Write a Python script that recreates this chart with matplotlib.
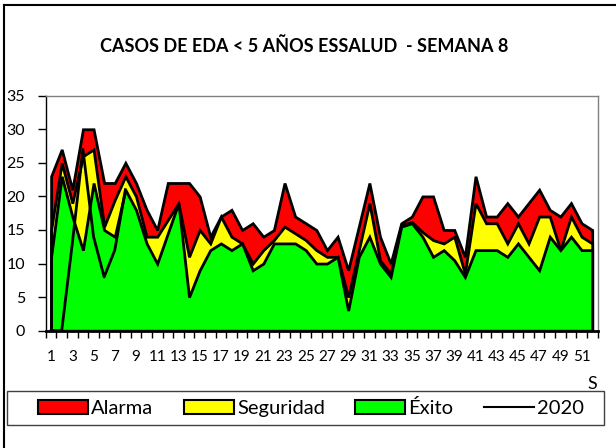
import matplotlib
matplotlib.use("Agg")
import matplotlib.pyplot as plt
from matplotlib.patches import Patch, Rectangle
from matplotlib.lines import Line2D

weeks = list(range(1, 53))
alarma = [23, 27, 21, 30, 30, 22, 22, 25, 22, 18, 15, 22, 22, 22, 20, 14, 17, 18, 15, 16,
          14, 15, 22, 17, 16, 15, 12, 14, 9, 15.5, 22, 14, 10, 16, 17, 20, 20, 15, 15, 11,
          23, 17, 17, 19, 17, 19, 21, 18, 17, 19, 16, 15]
seguridad = [15, 25, 19, 26, 27, 15.5, 19.5, 23, 20, 14, 14, 16.5, 19, 11, 15, 13, 17, 14, 13, 10,
             12, 13.5, 15.5, 14.5, 13.5, 12, 11, 11, 5, 12, 19, 10.5, 8.5, 15.7, 16.2, 14.7, 13.5, 13, 14, 8.5,
             19, 16, 16, 13, 16, 13, 17, 17, 12, 17, 14, 13]
exito = [11, 23, 17, 12, 22, 15, 14, 21, 18, 13, 10, 14.5, 19, 5, 9, 12, 13, 12, 13, 9,
         10, 13, 13, 13, 12, 10, 10, 11, 3, 11, 14, 10, 8, 15.5, 16, 14, 11, 12, 10.5, 8,
         12, 12, 12, 11, 13, 11, 9, 14, 12, 14, 12, 12]
weeks_2020 = list(range(1, 9))
y2020 = [0, 0, 13, 27, 14, 8, 12, 21]

title = "CASOS DE EDA < 5 AÑOS ESSALUD  - SEMANA 8"
labels = ["Alarma", "Seguridad", "Éxito", "2020"]
colors = ["#FF0000", "#FFFF00", "#00FF00"]

W, H = 616, 448
FONT = "Lato"
plt.rcParams['font.family'] = [FONT, 'DejaVu Sans']

fig = plt.figure(figsize=(W / 100, H / 100), dpi=100)
fig.patch.set_facecolor("white")

left, right, top, bottom = 45.8, 597.5, 95.7, 330.7
ax = fig.add_axes([left / W, 1 - bottom / H, (right - left) / W, (bottom - top) / H])

for vals, c, z in zip([alarma, seguridad, exito], colors, [1, 2, 3]):
    ax.fill_between(weeks, 0, vals, facecolor=c, edgecolor="black", linewidth=2.0,
                    joinstyle="miter", zorder=z)
ax.plot(weeks_2020, y2020, color="black", linewidth=2.0, zorder=4)

ax.set_xlim(0.5, 52.5)
ax.set_ylim(0, 35)
ax.set_yticks(range(0, 36, 5))
ax.set_xticks([w + 0.5 for w in range(0, 53)])
ax.set_xticklabels([])
ax.set_xticks([w for w in weeks if w % 2 == 1], minor=True)
ax.set_xticklabels([str(w) for w in weeks if w % 2 == 1], minor=True)
ax.tick_params(axis="x", which="major", direction="out", length=5, width=1, color="black")
ax.tick_params(axis="x", which="minor", length=0, pad=14, labelsize=11)
ax.tick_params(axis="y", direction="out", length=6, width=1, pad=9, labelsize=11.5)

for s in ["top", "right"]:
    ax.spines[s].set_color("#808080")
    ax.spines[s].set_linewidth(1)
ax.spines["left"].set_color("black")
ax.spines["left"].set_linewidth(1)
ax.spines["bottom"].set_color("black")
ax.spines["bottom"].set_linewidth(2)
ax.spines["bottom"].set_zorder(5)

fig.text(304 / W, 1 - 46 / H, title, ha="center", va="center", fontsize=13,
         fontweight="bold")
fig.text(587 / W, 1 - 384 / H, "S", ha="left", va="center", fontsize=13)

# outer chart border
fig.add_artist(Line2D([4 / W, 4 / W], [0, 1 - 5 / H], color="black", lw=1.5))
fig.add_artist(Line2D([4 / W, 1], [1 - 5 / H, 1 - 5 / H], color="black", lw=1.5))

# legend frame
fig.add_artist(Rectangle((7 / W, 1 - 425 / H), (604 - 7) / W, (425 - 391) / H,
                         facecolor="white", edgecolor="#404040", lw=1, zorder=1))

handles = [Patch(facecolor=c, edgecolor="black", linewidth=1.5) for c in colors]
handles.append(Line2D([0], [0], color="black", lw=1.5))
leg = fig.legend(handles, labels, loc="center", bbox_to_anchor=(311 / W, 1 - 408 / H),
                 ncol=4, frameon=False, handlelength=2.5, handleheight=0.7,
                 handletextpad=0.15, columnspacing=1.5, fontsize=14.5)
leg.set_zorder(3)

fig.savefig("out.png", dpi=100)
